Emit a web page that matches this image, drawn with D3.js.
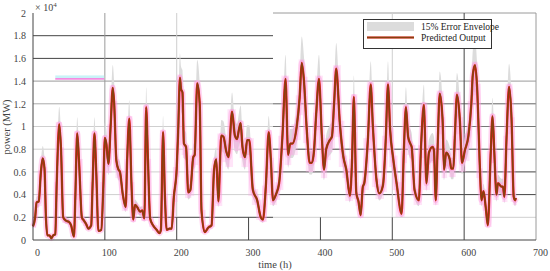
<!DOCTYPE html>
<html lang="en">
<head>
<meta charset="UTF-8">
<title>Predicted power output</title>
<script src="https://d3js.org/d3.v7.min.js"></script>
<style>
  body { margin: 0; background: #fff; }
  svg { display: block; font-family: "Liberation Serif", "Times New Roman", serif; }
  .axis path, .axis line { display: none; }
</style>
</head>
<body>
<svg width="550" height="271"></svg>
<script>
// time in hours, power in units of 10^4 MW
const hours = [0, 3, 5, 8, 11, 13.5, 16, 18, 20, 23, 25.5, 28, 31, 33, 36.5, 39, 42, 46, 50, 53,
  57, 59, 61.5, 64, 68, 71, 74, 77, 81, 83, 85.5, 88, 91, 95, 98, 100, 102, 105, 108, 111,
  113, 116, 119, 121, 125, 129, 131, 134, 137, 139.5, 142, 145, 149, 152, 155, 157.5, 160, 163, 167, 172,
  176, 178, 181, 183.5, 186, 190, 193, 196, 200, 202, 204.5, 206, 208, 210, 213, 216, 219, 223, 225, 228.5,
  232, 234.5, 239, 244, 248.5, 252, 255, 258, 262, 265, 269, 272, 277, 281, 284, 286.5, 289, 291.5, 295, 298,
  301, 306, 312, 317, 320, 324, 328, 331, 334, 338, 342.5, 347, 351.5, 355, 358, 361, 367, 371, 374, 377,
  381, 385, 388, 391, 394, 398, 402, 405, 408, 413, 416, 419, 422, 427, 432, 436, 441, 444, 446.5, 450,
  453, 456, 459, 461, 466, 470, 473, 478, 482, 487, 491, 494, 497, 501, 506, 513, 516, 519, 522, 525,
  527, 531, 537, 540, 544, 547.5, 551, 556, 558, 560.5, 563, 566, 570, 572, 575, 580, 582, 585, 587, 590,
  594, 597, 601, 606, 610, 612, 615, 618, 622, 624, 627, 630, 633, 637, 639.5, 642, 645, 647, 652, 654,
  656, 659, 662.5, 666, 669, 671, 672];
const power = [0.12, 0.2, 0.33, 0.34, 0.6, 0.72, 0.63, 0.2, 0.04, 0.04, 0.015, 0.04, 0.05, 0.5, 1.02, 0.8, 0.2, 0.17, 0.16, 0.13,
  0.03, 0.4, 0.94, 0.7, 0.2, 0.17, 0.14, 0.1, 0.13, 0.5, 0.94, 0.6, 0.08, 0.09, 0.5, 0.9, 0.85, 0.67, 1.0, 1.34,
  1.2, 0.7, 0.62, 0.6, 0.4, 0.29, 0.7, 1.07, 0.5, 0.18, 0.31, 0.29, 0.25, 0.26, 0.19, 1.17, 0.7, 0.19, 0.13, 0.09,
  0.06, 0.09, 0.95, 0.4, 0.09, 0.1, 0.1, 0.38, 0.63, 0.95, 1.43, 1.33, 1.3, 0.85, 0.82, 0.42, 0.44, 0.73, 0.75, 1.38,
  1.2, 0.26, 0.07, 0.11, 0.13, 0.62, 0.71, 0.34, 0.92, 0.91, 0.78, 0.73, 1.13, 0.92, 0.89, 0.97, 1.03, 0.82, 0.73, 0.88,
  0.88, 0.44, 0.35, 0.2, 0.18, 0.47, 0.95, 0.71, 0.35, 0.4, 0.5, 0.9, 1.42, 0.75, 0.85, 0.85, 1.0, 1.25, 1.56, 1.41,
  0.97, 0.68, 0.68, 0.78, 1.1, 1.42, 0.91, 0.62, 0.8, 0.88, 0.91, 1.2, 1.51, 1.03, 0.73, 0.62, 0.39, 0.7, 1.26, 0.41,
  0.34, 0.22, 0.47, 0.5, 0.88, 1.37, 1.0, 0.53, 0.41, 0.48, 0.9, 1.37, 0.97, 0.73, 0.5, 0.23, 0.77, 1.17, 0.91, 0.85,
  0.82, 0.44, 0.35, 0.82, 1.19, 0.5, 0.77, 0.82, 0.79, 0.35, 0.8, 1.29, 1.06, 0.62, 0.77, 0.71, 0.63, 0.63, 0.9, 1.28,
  1.06, 0.68, 0.79, 0.92, 1.2, 1.45, 1.54, 1.35, 0.62, 0.35, 0.43, 0.29, 0.13, 0.77, 1.09, 0.77, 0.4, 0.5, 0.47, 0.47,
  0.38, 0.9, 1.35, 1.06, 0.38, 0.35, 0.37];
const errorPct = 0.15;

const xTicks = [0, 100, 200, 300, 400, 500, 600, 700];
const yTicks = [0, 0.2, 0.4, 0.6, 0.8, 1, 1.2, 1.4, 1.6, 1.8, 2];
const legendLabels = ["15% Error Envelope", "Predicted Output"];

const serif = "'Liberation Serif', 'Times New Roman', serif";
const svg = d3.select("svg");
const x = d3.scaleLinear().domain([0, 700]).range([33, 536]);
const y = d3.scaleLinear().domain([0, 2]).range([240, 13]);

const data = hours.map((t, i) => ({ t: t, v: power[i] }));

const dark = "#444", mid = "#9a9a9a", light = "#cfcfcf";

// the original figure is stitched from two panels, so the grid differs left/right
const split = 334;
const hGrid = [
  [1.8, 0, split, dark], [1.6, 0, split, dark],
  [1.4, 0, split, mid], [1.2, 0, split, "#aaa"], [1, 0, split, light], [0.8, 0, split, light],
  [0.6, 0, split, light], [0.4, 0, split, light], [0.2, 0, split, dark],
  [2, split, 700, mid], [1.4, split, 700, mid], [1.2, split, 700, "#666"], [1, split, 700, "#777"],
  [0.8, split, 700, dark], [0.6, split, 700, dark], [0.4, split, 700, dark], [0.2, split, 700, light]
];
const vGrid = [
  [100, 0.2, 2, mid], [100, 0, 0.2, dark],
  [200, 0.2, 2, light], [200, 0, 0.2, dark],
  [300, 0, 0.2, dark], [400, 0, 0.2, dark],
  [500, 0.2, 2, light], [500, 0, 0.2, dark],
  [600, 0, 2, dark], [700, 0, 2, mid]
];

const grid = svg.append("g");
grid.selectAll("line.h").data(hGrid).enter().append("line")
  .attr("x1", d => x(d[1])).attr("x2", d => x(d[2]))
  .attr("y1", d => y(d[0])).attr("y2", d => y(d[0]))
  .attr("stroke", d => d[3]).attr("stroke-width", 1);
grid.selectAll("line.v").data(vGrid).enter().append("line")
  .attr("x1", d => x(d[0])).attr("x2", d => x(d[0]))
  .attr("y1", d => y(d[1])).attr("y2", d => y(d[2]))
  .attr("stroke", d => d[3]).attr("stroke-width", 1);

// stray highlight mark near the top-left of the original figure
svg.append("rect")
  .attr("x", x(31)).attr("width", x(99) - x(31))
  .attr("y", y(1.45)).attr("height", y(1.425) - y(1.45))
  .attr("fill", "#c9f3f7");
svg.append("line")
  .attr("x1", x(31)).attr("x2", x(99))
  .attr("y1", y(1.42)).attr("y2", y(1.42))
  .attr("stroke", "#f38ce0").attr("stroke-width", 1.6);

// 15% error envelope
const envelope = d3.area()
  .x(d => x(d.t))
  .y0(d => y(d.v * (1 - errorPct)))
  .y1(d => y(d.v * (1 + errorPct)))
  .curve(d3.curveMonotoneX);
svg.append("path").datum(data)
  .attr("d", envelope)
  .attr("fill", "#dcdcdc");

// pink blocks behind the trace
const segs = d3.pairs(data);
svg.append("g").selectAll("rect").data(segs).enter().append("rect")
  .attr("x", d => x(d[0].t) - 1)
  .attr("width", d => x(d[1].t) - x(d[0].t) + 2)
  .attr("y", d => y(Math.max(d[0].v, d[1].v) * 1.02))
  .attr("height", d => y(Math.min(d[0].v, d[1].v) * 0.88) - y(Math.max(d[0].v, d[1].v) * 1.02))
  .attr("fill", "#ffa6e8")
  .attr("opacity", 0.3);

const line = d3.line()
  .x(d => x(d.t))
  .y(d => y(d.v))
  .curve(d3.curveMonotoneX);

svg.append("path").datum(data)
  .attr("d", line).attr("fill", "none")
  .attr("stroke", "#ff8fd6").attr("stroke-width", 6).attr("opacity", 0.35);
svg.append("path").datum(data)
  .attr("d", line).attr("fill", "none")
  .attr("stroke", "#e3201b").attr("stroke-width", 2.3).attr("stroke-linejoin", "round");
svg.append("path").datum(data)
  .attr("d", line).attr("fill", "none")
  .attr("stroke", "#86400f").attr("stroke-width", 1.6).attr("stroke-linejoin", "round");

// frame
svg.append("line").attr("x1", x(0)).attr("x2", x(0)).attr("y1", y(0)).attr("y2", y(2))
  .attr("stroke", dark);
svg.append("line").attr("x1", x(0)).attr("x2", x(700)).attr("y1", y(0)).attr("y2", y(0))
  .attr("stroke", dark);

// axes
const xAxis = svg.append("g").attr("class", "axis")
  .attr("transform", `translate(0,${y(0)})`)
  .call(d3.axisBottom(x).tickValues(xTicks).tickFormat(d3.format("d")).tickSize(0).tickPadding(9));
xAxis.attr("font-family", serif).attr("font-size", 10);
xAxis.selectAll("text").attr("dx", 4).attr("fill", "#444");

const yAxis = svg.append("g").attr("class", "axis")
  .attr("transform", `translate(${x(0)},0)`)
  .call(d3.axisLeft(y).tickValues(yTicks).tickFormat(d => d3.format("~g")(d)).tickSize(0).tickPadding(7));
yAxis.attr("font-family", serif).attr("font-size", 10);
yAxis.selectAll("text").attr("fill", "#444");

// titles
svg.append("text")
  .attr("x", 275).attr("y", 268)
  .attr("text-anchor", "middle")
  .attr("font-size", 10.5).attr("fill", "#444")
  .text("time (h)");
svg.append("text")
  .attr("transform", "translate(10,127) rotate(-90)")
  .attr("text-anchor", "middle")
  .attr("font-size", 10.5).attr("fill", "#444")
  .text("power (MW)");
const mult = svg.append("text")
  .attr("x", 35).attr("y", 11)
  .attr("font-size", 10).attr("fill", "#444");
mult.append("tspan").text("× 10");
mult.append("tspan").attr("dy", -4).attr("font-size", 7).text("4");

// legend
const lg = svg.append("g");
lg.append("rect").attr("x", 363.5).attr("y", 19.5).attr("width", 128).attr("height", 29)
  .attr("fill", "#fff").attr("stroke", "#333");
lg.append("rect").attr("x", 367).attr("y", 22).attr("width", 47).attr("height", 9)
  .attr("fill", "#dcdcdc");
lg.append("line").attr("x1", 367).attr("x2", 414).attr("y1", 37.5).attr("y2", 37.5)
  .attr("stroke", "#e3201b").attr("stroke-width", 2.2);
lg.append("line").attr("x1", 367).attr("x2", 414).attr("y1", 37.5).attr("y2", 37.5)
  .attr("stroke", "#86400f").attr("stroke-width", 1.3);
lg.selectAll("text.lbl").data(legendLabels).enter().append("text")
  .attr("x", 421).attr("y", (d, i) => 30 + i * 11)
  .attr("font-size", 9.5).attr("fill", "#222")
  .text(d => d);
</script>
</body>
</html>
